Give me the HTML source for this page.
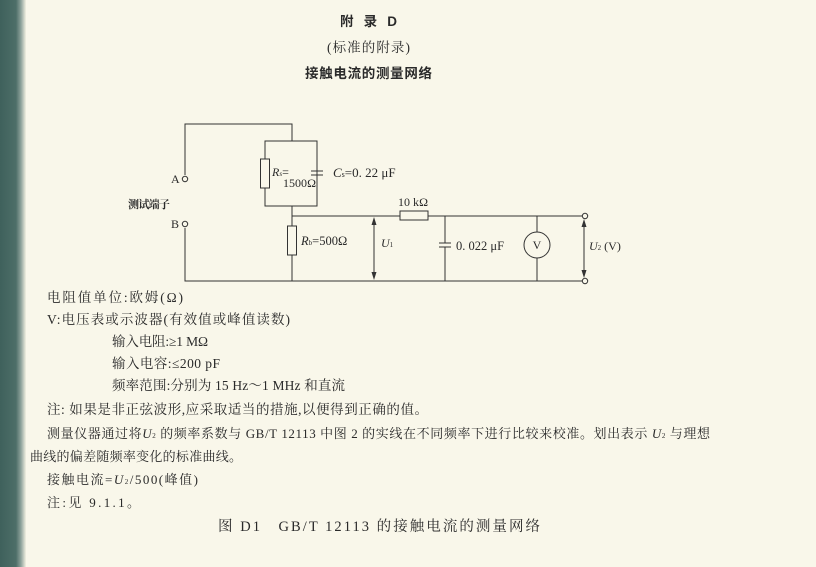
<!DOCTYPE html>
<html><head><meta charset="utf-8"><style>
html,body{margin:0;padding:0}
body{width:816px;height:567px;overflow:hidden;background:#f9f7ea;position:relative;font-family:"Liberation Serif","Noto Serif CJK SC",serif;color:#2a2a2a}
.strip{position:absolute;left:0;top:0;width:26px;height:567px;background:linear-gradient(90deg,#3f615c 0,#4d6e68 16px,#8fa39c 21px,#f3f1e2 26px)}
svg{position:absolute;left:0;top:0}
svg text{font-family:"Liberation Serif","Noto Serif CJK SC",serif;fill:#2a2a2a}
</style></head><body>
<div class="strip"></div>
<svg width="816" height="567" viewBox="0 0 816 567">
<g font-size="13.5">
<text x="340" y="26" font-weight="bold" textLength="57" lengthAdjust="spacing" style="font-family:'Liberation Sans','Noto Sans CJK SC',sans-serif">附录D</text>
<text x="327" y="52" font-size="13.5" textLength="83" lengthAdjust="spacing">(标准的附录)</text>
<text x="305" y="78" font-weight="bold" textLength="127" lengthAdjust="spacing" style="font-family:'Liberation Sans','Noto Sans CJK SC',sans-serif">接触电流的测量网络</text>
</g>
<g stroke="#333" stroke-width="1" fill="none">
<polyline points="185,175 185,124 292,124 292,141"/>
<rect x="265" y="141" width="52" height="65"/>
<rect x="260.5" y="159" width="9" height="29" fill="#f9f7ea"/>
<line x1="311" y1="171" x2="323" y2="171"/><line x1="311" y1="175" x2="323" y2="175"/>
<line x1="317" y1="141" x2="317" y2="171"/><line x1="317" y1="175" x2="317" y2="206"/>
<line x1="292" y1="206" x2="292" y2="226"/>
<rect x="287.5" y="226" width="9" height="29" fill="#f9f7ea"/>
<line x1="292" y1="255" x2="292" y2="281"/>
<polyline points="292,216 400,216"/><rect x="400" y="211" width="28" height="9"/>
<line x1="428" y1="216" x2="582" y2="216"/>
<polyline points="185,228 185,281 582,281"/>
<line x1="445" y1="216" x2="445" y2="243"/><line x1="439" y1="243" x2="451" y2="243"/><line x1="439" y1="247" x2="451" y2="247"/><line x1="445" y1="247" x2="445" y2="281"/>
<line x1="537" y1="216" x2="537" y2="232"/><circle cx="537" cy="245" r="13"/><line x1="537" y1="258" x2="537" y2="281"/>
<line x1="374" y1="219" x2="374" y2="278"/>
<line x1="584" y1="221" x2="584" y2="276"/>
<circle cx="185" cy="179" r="2.7"/><circle cx="185" cy="224" r="2.7"/>
<circle cx="585" cy="216" r="2.7"/><circle cx="585" cy="281" r="2.7"/>
</g>
<g fill="#333">
<polygon points="374,217 371.5,225 376.5,225"/><polygon points="374,280 371.5,272 376.5,272"/>
<polygon points="584,219 581.5,227 586.5,227"/><polygon points="584,278 581.5,270 586.5,270"/>
</g>
<g font-size="12">
<text x="171" y="183">A</text><text x="171" y="228">B</text>
<text x="128" y="208" font-size="11" font-weight="bold" textLength="42" lengthAdjust="spacing">测试端子</text>
<text x="272" y="176" font-style="italic">R<tspan font-size="7">s</tspan><tspan font-style="normal">=</tspan></text>
<text x="283" y="187" textLength="33" lengthAdjust="spacing">1500Ω</text>
<text x="333" y="177" font-size="13"><tspan font-style="italic">C</tspan><tspan font-size="8">s</tspan>=0. 22 μF</text>
<text x="398" y="206" textLength="30" lengthAdjust="spacing">10 kΩ</text>
<text x="301" y="245" font-size="12.5"><tspan font-style="italic">R</tspan><tspan font-size="7">b</tspan>=500Ω</text>
<text x="381" y="247" font-style="italic">U<tspan font-size="7" font-style="normal">1</tspan></text>
<text x="456" y="250" font-size="12.5">0. 022 μF</text>
<text x="537" y="249" text-anchor="middle">V</text>
<text x="589" y="250"><tspan font-style="italic">U</tspan><tspan font-size="7">2</tspan> (V)</text>
</g>
<g font-size="13.5">
<text x="47" y="302" textLength="136" lengthAdjust="spacing">电阻值单位:欧姆(Ω)</text>
<text x="47" y="324" textLength="243" lengthAdjust="spacing">V:电压表或示波器(有效值或峰值读数)</text>
<text x="112" y="346" textLength="96" lengthAdjust="spacing">输入电阻:≥1 MΩ</text>
<text x="112" y="368" textLength="108" lengthAdjust="spacing">输入电容:≤200 pF</text>
<text x="112" y="390" textLength="233" lengthAdjust="spacing">频率范围:分别为 15 Hz～1 MHz 和直流</text>
<text x="47" y="414" textLength="381" lengthAdjust="spacing">注: 如果是非正弦波形,应采取适当的措施,以便得到正确的值。</text>
<text x="47" y="438" font-size="13" textLength="663" lengthAdjust="spacing">测量仪器通过将<tspan font-style="italic">U</tspan><tspan font-size="7">2</tspan> 的频率系数与 GB/T 12113 中图 2 的实线在不同频率下进行比较来校准。划出表示 <tspan font-style="italic">U</tspan><tspan font-size="7">2</tspan> 与理想</text>
<text x="30" y="461" font-size="13" textLength="212" lengthAdjust="spacing">曲线的偏差随频率变化的标准曲线。</text>
<text x="47" y="484" font-size="13" textLength="151" lengthAdjust="spacing">接触电流=<tspan font-style="italic">U</tspan><tspan font-size="7">2</tspan>/500(峰值)</text>
<text x="47" y="507" font-size="13" textLength="93" lengthAdjust="spacing">注:见 9.1.1。</text>
<text x="218" y="531" font-size="14.5" textLength="322" lengthAdjust="spacing">图 D1　GB/T 12113 的接触电流的测量网络</text>
</g>
</svg>
</body></html>
